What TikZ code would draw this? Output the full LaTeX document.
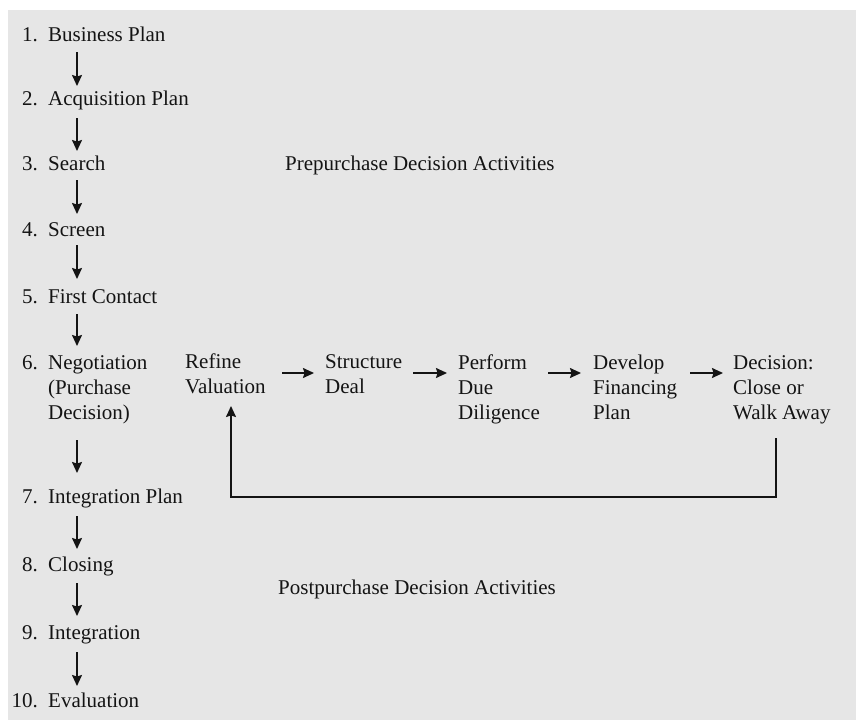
\documentclass[tikz,border=0pt]{standalone}
\usepackage{fontspec}
\setmainfont{Liberation Serif}
\usetikzlibrary{arrows.meta,calc}
\definecolor{bg}{HTML}{E6E6E6}
\definecolor{ink}{HTML}{141414}
\begin{document}
\begin{tikzpicture}[x=1pt,y=-1pt,
  txt/.style={inner sep=0pt, font=\fontsize{21}{25}\selectfont, text=ink},
  item/.style={txt, anchor=base west},
  num/.style={txt, anchor=base east},
  multi/.style={txt, anchor=base west, align=left},
  arr/.style={draw=ink, line width=1.5pt, -{Stealth[length=11pt,width=10pt,inset=1.5pt]}}]
\useasboundingbox (0,0) rectangle (856,720);
\fill[white] (0,0) rectangle (856,720);
\fill[bg] (8,10) rectangle (856,720);
% left column
\node[num] (n1) at (38,41) {1.};   \node[item] (s1) at (48,41) {Business Plan};
\node[num] (n2) at (38,105) {2.};  \node[item] (s2) at (48,105) {Acquisition Plan};
\node[num] (n3) at (38,170) {3.};  \node[item] (s3) at (48,170) {Search};
\node[num] (n4) at (38,236) {4.};  \node[item] (s4) at (48,236) {Screen};
\node[num] (n5) at (38,303) {5.};  \node[item] (s5) at (48,303) {First Contact};
\node[num] (n6) at (38,369) {6.};  \node[multi] (s6) at (48,419) {Negotiation\\(Purchase\\Decision)};
\node[num] (n7) at (38,503) {7.};  \node[item] (s7) at (48,503) {Integration Plan};
\node[num] (n8) at (38,571) {8.};  \node[item] (s8) at (48,571) {Closing};
\node[num] (n9) at (38,639) {9.};  \node[item] (s9) at (48,639) {Integration};
\node[num] (n10) at (38,707) {10.}; \node[item] (s10) at (48,707) {Evaluation};
% arrows in the left column
\coordinate (a1s) at (77,52);  \coordinate (a1e) at (77,86);
\coordinate (a2s) at (77,118); \coordinate (a2e) at (77,151);
\coordinate (a3s) at (77,180); \coordinate (a3e) at (77,214);
\coordinate (a4s) at (77,245); \coordinate (a4e) at (77,279);
\coordinate (a5s) at (77,314); \coordinate (a5e) at (77,346);
\coordinate (a6s) at (77,440); \coordinate (a6e) at (77,473);
\coordinate (a7s) at (77,516); \coordinate (a7e) at (77,549);
\coordinate (a8s) at (77,583); \coordinate (a8e) at (77,616);
\coordinate (a9s) at (77,652); \coordinate (a9e) at (77,686);
\draw[arr] (a1s) -- (a1e);
\draw[arr] (a2s) -- (a2e);
\draw[arr] (a3s) -- (a3e);
\draw[arr] (a4s) -- (a4e);
\draw[arr] (a5s) -- (a5e);
\draw[arr] (a6s) -- (a6e);
\draw[arr] (a7s) -- (a7e);
\draw[arr] (a8s) -- (a8e);
\draw[arr] (a9s) -- (a9e);
% section labels
\node[item] (pre) at (285,170) {Prepurchase Decision Activities};
\node[item] (post) at (278,594) {Postpurchase Decision Activities};
% horizontal flow
\node[multi] (h1) at (185,393) {Refine\\Valuation};
\node[multi] (h2) at (325,393) {Structure\\Deal};
\node[multi] (h3) at (458,419) {Perform\\Due\\Diligence};
\node[multi] (h4) at (593,419) {Develop\\Financing\\Plan};
\node[multi] (h5) at (733,419) {Decision:\\Close or\\Walk Away};
\coordinate (b1s) at (282,373); \coordinate (b1e) at (314,373);
\coordinate (b2s) at (413,373); \coordinate (b2e) at (447,373);
\coordinate (b3s) at (548,373); \coordinate (b3e) at (581,373);
\coordinate (b4s) at (690,373); \coordinate (b4e) at (723,373);
\draw[arr] (b1s) -- (b1e);
\draw[arr] (b2s) -- (b2e);
\draw[arr] (b3s) -- (b3e);
\draw[arr] (b4s) -- (b4e);
% feedback loop
\coordinate (fs) at (776,438);
\coordinate (fc) at (776,497);
\coordinate (fe) at (231,406);
\draw[arr] (fs) -- (fc) -| (fe);
\end{tikzpicture}
\end{document}
